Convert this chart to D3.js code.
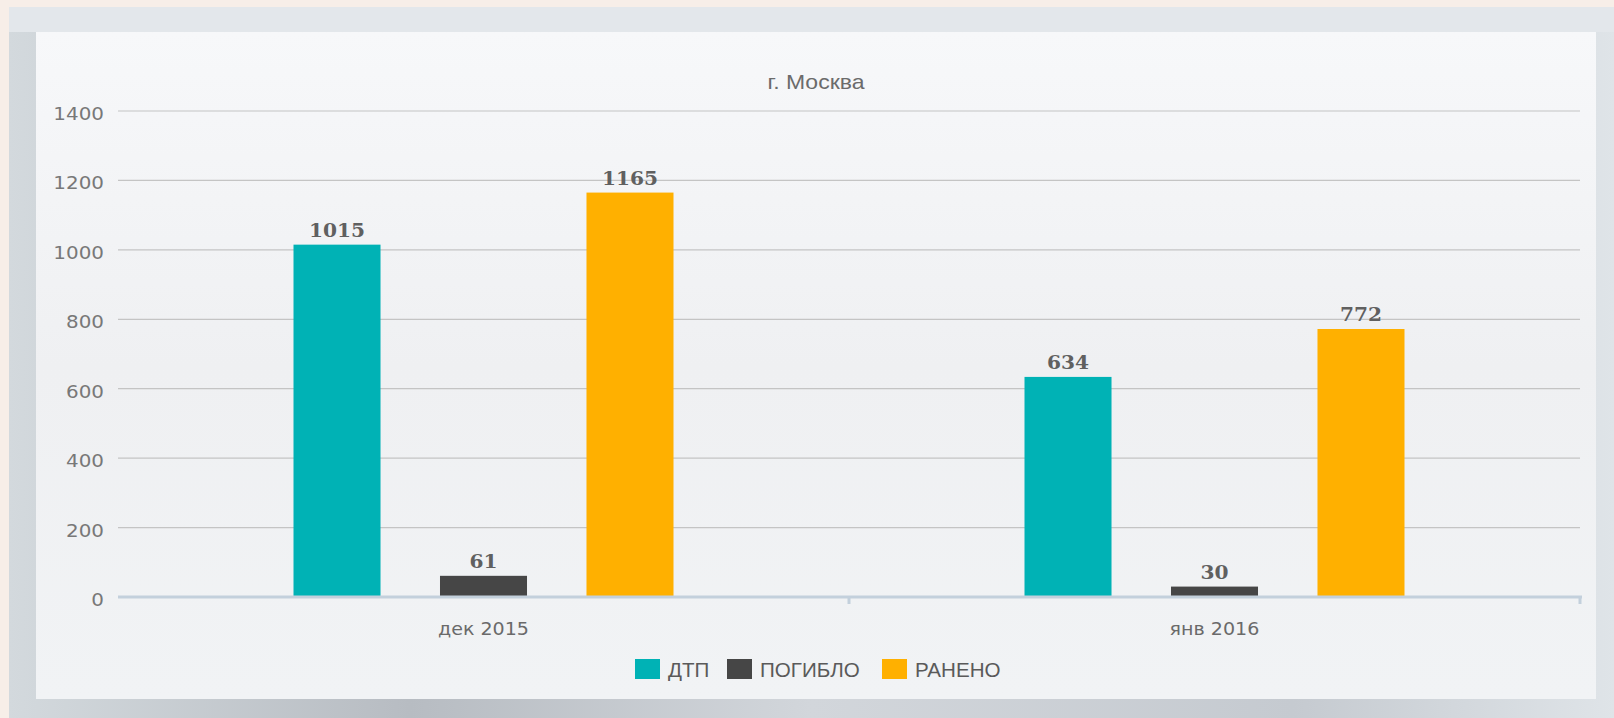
<!DOCTYPE html>
<html>
<head>
<meta charset="utf-8">
<script src="https://cdn.jsdelivr.net/npm/d3@7"></script>
<style>
  body { margin: 0; background: #f7eee8; }
  svg { display: block; }
</style>
</head>
<body>
<script>
// chart data
var categories = ["дек 2015", "янв 2016"];
var seriesNames = ["ДТП", "ПОГИБЛО", "РАНЕНО"];
var dtp = [1015, 634];
var pogiblo = [61, 30];
var raneno = [1165, 772];
var yTicks = [0, 200, 400, 600, 800, 1000, 1200, 1400];
var colors = ["#00b2b5", "#464646", "#ffb000"];
var title = "г. Москва";

var svgWidth = 1614;
var svgHeight = 718;

var svg = d3.select("body")
  .append("svg")
  .attr("width", svgWidth)
  .attr("height", svgHeight);

// backgrounds
var defs = svg.append("defs");
var frameGrad = defs.append("linearGradient")
  .attr("id", "frameGrad").attr("x1", 0).attr("y1", 0).attr("x2", 1).attr("y2", 0);
frameGrad.append("stop").attr("offset", "0%").attr("stop-color", "#d3d9dd");
frameGrad.append("stop").attr("offset", "25%").attr("stop-color", "#b7bcc2");
frameGrad.append("stop").attr("offset", "50%").attr("stop-color", "#d2d6db");
frameGrad.append("stop").attr("offset", "80%").attr("stop-color", "#c5cad0");
frameGrad.append("stop").attr("offset", "100%").attr("stop-color", "#dfe4e8");

var panelGrad = defs.append("linearGradient")
  .attr("id", "panelGrad").attr("x1", 0).attr("y1", 0).attr("x2", 0).attr("y2", 1);
panelGrad.append("stop").attr("offset", "0%").attr("stop-color", "#f7f8fa");
panelGrad.append("stop").attr("offset", "50%").attr("stop-color", "#eff0f2");
panelGrad.append("stop").attr("offset", "100%").attr("stop-color", "#f1f3f5");

svg.append("rect")
  .attr("x", 9).attr("y", 7).attr("width", svgWidth - 9).attr("height", svgHeight - 7)
  .attr("fill", "url(#frameGrad)");
svg.append("rect")
  .attr("x", 9).attr("y", 7).attr("width", svgWidth - 9).attr("height", 25)
  .attr("fill", "#e3e7eb");
svg.append("rect")
  .attr("x", 36).attr("y", 32).attr("width", 1560).attr("height", 667)
  .attr("fill", "url(#panelGrad)");

// scales
var x0 = d3.scaleBand()
  .domain(categories)
  .range([118, 1580]);

var x1 = d3.scaleBand()
  .domain(seriesNames)
  .range([-190, 190])
  .paddingInner(0.406);

var yScale = d3.scaleLinear()
  .domain([0, 1400])
  .range([597, 111]);

// helper for horizontally stretched text
function stretchedText(g, x, y, txt, sx) {
  return g.append("text")
    .attr("transform", `translate(${x},${y}) scale(${sx},1)`)
    .text(txt);
}

// gridlines
svg.append("g")
  .selectAll("line")
  .data(yTicks.filter(d => d > 0))
  .enter()
  .append("line")
  .attr("x1", 118).attr("x2", 1580)
  .attr("y1", d => yScale(d)).attr("y2", d => yScale(d))
  .attr("stroke", "#c4c4c4")
  .attr("stroke-width", 1.2);

// y tick labels
var yLabels = svg.append("g")
  .attr("font-family", "DejaVu Sans")
  .attr("font-size", 17)
  .attr("fill", "#787878")
  .attr("text-anchor", "end");
yTicks.forEach(function(t) {
  stretchedText(yLabels, 104, yScale(t) + 9, t, 1.17);
});

// bars
var seriesValues = [dtp, pogiblo, raneno];
var bars = [];
categories.forEach(function(c, i) {
  seriesNames.forEach(function(s, j) {
    bars.push({ cat: c, series: s, value: seriesValues[j][i], color: colors[j] });
  });
});

var barGroup = svg.append("g");
barGroup.selectAll(".bar")
  .data(bars)
  .enter()
  .append("rect")
  .classed("bar", true)
  .attr("x", d => x0(d.cat) + x0.bandwidth() / 2 + x1(d.series))
  .attr("y", d => yScale(d.value))
  .attr("width", x1.bandwidth())
  .attr("height", d => yScale(0) - yScale(d.value))
  .attr("fill", d => d.color);

// value labels
var valueLabels = svg.append("g")
  .attr("font-family", "DejaVu Serif")
  .attr("font-weight", "bold")
  .attr("font-size", 18)
  .attr("fill", "#606060")
  .attr("text-anchor", "middle");
bars.forEach(function(d) {
  stretchedText(valueLabels,
    x0(d.cat) + x0.bandwidth() / 2 + x1(d.series) + x1.bandwidth() / 2,
    yScale(d.value) - 8, d.value, 1.12);
});

// x axis line
svg.append("line")
  .attr("x1", 118).attr("x2", 1582)
  .attr("y1", yScale(0)).attr("y2", yScale(0))
  .attr("stroke", "#c3d0dc")
  .attr("stroke-width", 3);
svg.append("g")
  .selectAll("line")
  .data([x0(categories[1]), x0(categories[1]) + x0.bandwidth()])
  .enter()
  .append("line")
  .attr("x1", d => d).attr("x2", d => d)
  .attr("y1", yScale(0)).attr("y2", yScale(0) + 7)
  .attr("stroke", "#c3d0dc")
  .attr("stroke-width", 3);

// category labels
var catLabels = svg.append("g")
  .attr("font-family", "DejaVu Sans")
  .attr("font-size", 18)
  .attr("fill", "#6a6a6a")
  .attr("text-anchor", "middle");
categories.forEach(function(c) {
  stretchedText(catLabels, x0(c) + x0.bandwidth() / 2, 635, c, 1.06);
});

// title
var titleG = svg.append("g")
  .attr("font-family", "Liberation Sans")
  .attr("font-size", 20)
  .attr("fill", "#6b6b6b")
  .attr("text-anchor", "middle");
stretchedText(titleG, 816, 89, title, 1.15);

// legend
var legend = svg.append("g")
  .attr("font-family", "Liberation Sans")
  .attr("font-size", 20)
  .attr("fill", "#5a5a5a");
var legendX = [635, 727, 882];
seriesNames.forEach(function(s, i) {
  legend.append("rect")
    .attr("x", legendX[i]).attr("y", 659)
    .attr("width", 25).attr("height", 20)
    .attr("fill", colors[i]);
  stretchedText(legend, legendX[i] + 33, 677, s, 1.03);
});
</script>
</body>
</html>
